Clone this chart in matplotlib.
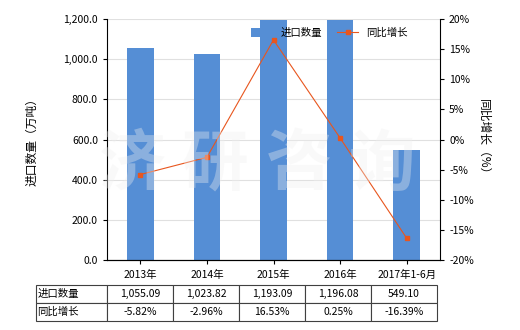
import numpy as np
import matplotlib.pyplot as plt
from matplotlib.ticker import FuncFormatter

plt.rcParams['font.family'] = ['Noto Sans CJK SC', 'DejaVu Sans']

categories = ['2013年', '2014年', '2015年', '2016年', '2017年1-6月']
volume = [1055.09, 1023.82, 1193.09, 1196.08, 549.10]
growth = [-5.82, -2.96, 16.53, 0.25, -16.39]
volume_text = ['1,055.09', '1,023.82', '1,193.09', '1,196.08', '549.10']
growth_text = ['-5.82%', '-2.96%', '16.53%', '0.25%', '-16.39%']

bar_color = '#558ED5'
line_color = '#E8561E'
fs = 7.5

fig = plt.figure(figsize=(5.2, 3.3), dpi=100)
ax = fig.add_axes([107/520, 1-260/330, 333/520, 241/330])
x = np.arange(len(categories))

ax.bar(x, volume, width=0.4, color=bar_color, zorder=2, label='进口数量')
ax.set_xlim(-0.5, len(categories)-0.5)
ax.set_ylim(0, 1200)
ax.set_yticks(np.arange(0, 1201, 200))
ax.yaxis.set_major_formatter(FuncFormatter(lambda v, p: '{:,.1f}'.format(v)))
ax.grid(axis='y', color='#e0e0e0', linewidth=0.8, zorder=0)
ax.set_xticks(x)
ax.set_xticklabels(categories)
ax.tick_params(axis='both', labelsize=fs, length=3, width=0.8)
ax.tick_params(axis='x', pad=4)
for s in ['top', 'right']:
    ax.spines[s].set_visible(False)
ax.set_ylabel('进口数量（万吨）', fontsize=8.5, labelpad=18)

ax2 = ax.twinx()
ax2.plot(x, growth, color=line_color, linewidth=0.8, marker='s', markersize=3.5,
         zorder=3, label='同比增长')
ax2.set_ylim(-20, 20)
ax2.set_yticks(np.arange(-20, 21, 5))
ax2.yaxis.set_major_formatter(FuncFormatter(lambda v, p: '{:d}%'.format(int(v))))
ax2.tick_params(axis='y', labelsize=fs, length=3, width=0.8)
for s in ['top', 'left']:
    ax2.spines[s].set_visible(False)
ax2.set_ylabel('同比增长（%）', fontsize=8.5, rotation=-90, labelpad=12)

# watermark
for ch, px in zip('济研咨询', [132, 215, 299, 382]):
    fig.text(px/520, 1-165/330, ch, fontsize=48, fontweight='bold',
             color='#f0f0f0', alpha=0.35, ha='center', va='center', zorder=10)

h1, l1 = ax.get_legend_handles_labels()
h2, l2 = ax2.get_legend_handles_labels()
ax2.legend(h1 + h2, l1 + l2, loc='upper left', bbox_to_anchor=(0.42, 0.98),
           ncol=2, frameon=False, fontsize=fs, handlelength=2.0,
           handleheight=0.9, columnspacing=1.5, borderaxespad=0)

# data table
cell_text = [['进口数量'] + volume_text, ['同比增长'] + growth_text]
x0 = (36 - 107) / 333
w = (437 - 36) / 333
y0 = (260 - 321) / 241
h = (321 - 285) / 241
label_w = (107 - 36) / 401
col_w = (1 - label_w) / len(categories)
tbl = ax.table(cellText=cell_text, bbox=[x0, y0, w, h],
               colWidths=[label_w] + [col_w] * len(categories), cellLoc='center')
tbl.auto_set_font_size(False)
for (r, c), cell in tbl.get_celld().items():
    cell.set_edgecolor('#404040')
    cell.set_linewidth(0.8)
    cell.get_text().set_fontsize(fs)
    if c == 0:
        cell.get_text().set_ha('left')
        cell.PAD = 0.02

fig.savefig('out.png', dpi=100)
